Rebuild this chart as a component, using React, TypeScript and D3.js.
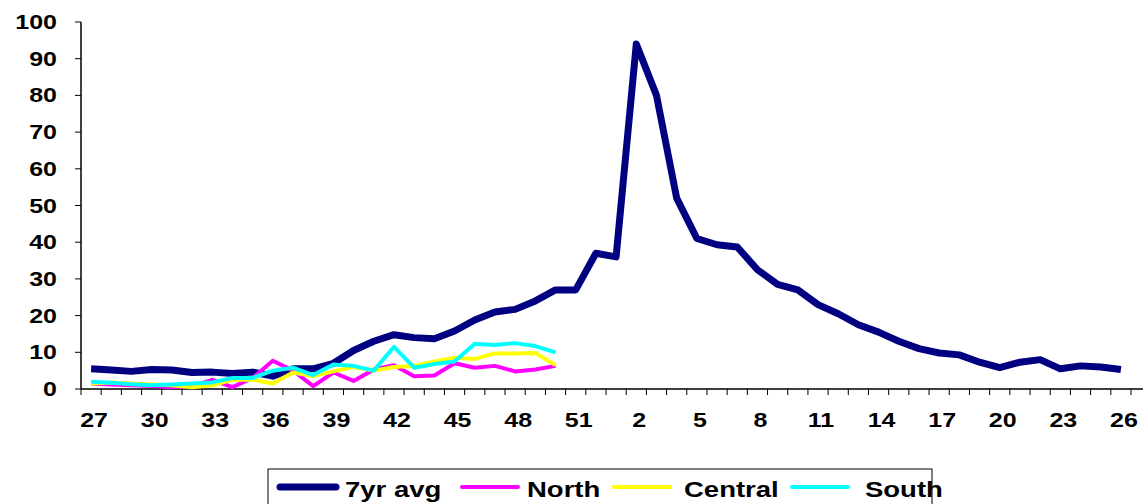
import React from "react";
import * as d3 from "d3";

const weeks = [...d3.range(27, 53), ...d3.range(1, 27)].map(String);
const avg = [5.5,5.2,4.8,5.3,5.2,4.5,4.6,4.2,4.6,3.5,5.5,5.5,7,10.5,13,14.8,14,13.7,15.8,18.8,21,21.7,24,27,27,37,36,94,80,52,41,39.3,38.7,32.5,28.5,27,23,20.5,17.5,15.5,13,11,9.8,9.3,7.3,5.8,7.3,8,5.5,6.3,6,5.3];
const north = [1.5,1.2,1,0.8,0.5,0.8,2.5,0.5,3,7.7,5,0.8,4.5,2.2,5.3,6.5,3.5,3.7,7,5.8,6.3,4.8,5.3,6.3];
const central = [1.5,1.8,1.5,1.2,1,0.5,1,2.5,2.5,1.5,4.5,3.5,4.8,6,5,6,6.3,7.5,8.5,8.2,9.7,9.7,9.8,6.5];
const south = [2,1.7,1.3,1,1.2,1.5,1.8,3,3,5,5.8,3.8,6.7,6.3,5,11.5,5.8,6.8,7.5,12.3,12,12.5,11.7,10];
const yTicks = d3.range(0, 101, 10);

const series = [
  { name: "7yr avg", data: avg, color: "#000080", w: 7 },
  { name: "North", data: north, color: "#FF00FF", w: 4 },
  { name: "Central", data: central, color: "#FFFF00", w: 4 },
  { name: "South", data: south, color: "#00FFFF", w: 4 },
];

export default function App() {
  const x = d3.scaleBand().domain(weeks).range([81, 1131]);
  const y = d3.scaleLinear().domain([0, 100]).range([389, 22]);
  const line = d3.line<number>().x((_, i) => x(weeks[i])! + x.bandwidth() / 2).y((d) => y(d));
  const font = "Arial, 'Liberation Sans', sans-serif";
  const legendX = [280, 462, 614, 792];
  const textX = [345, 527, 684, 865];
  const sx = 1.25;
  return (
    <svg width={1143} height={504} style={{ position: "absolute", left: 0, top: 0 }} fontFamily={font} fontWeight="bold">
      <line x1={81} x2={81} y1={22} y2={389} stroke="#000" strokeWidth={1.5} />
      <line x1={81} x2={1143} y1={389} y2={389} stroke="#000" strokeWidth={1.5} />
      {yTicks.map((t) => (
        <g key={t}>
          <line x1={75} x2={81} y1={y(t)} y2={y(t)} stroke="#000" />
          <text transform={`translate(57,${y(t)}) scale(${sx},1)`} dy="0.35em" textAnchor="end" fontSize={20}>{t}</text>
        </g>
      ))}
      {[...weeks, "end"].map((w, i) => (
        <line key={w} x1={81 + i * x.step()} x2={81 + i * x.step()} y1={389} y2={395} stroke="#000" />
      ))}
      {weeks.map((w, i) => i % 3 === 0 ? (
        <text key={w} transform={`translate(${x(w)! + x.bandwidth() / 2 + 3},427) scale(${sx},1)`} textAnchor="middle" fontSize={20}>{w}</text>
      ) : null)}
      {series.map((s) => (
        <path key={s.name} d={line(s.data)!} fill="none" stroke={s.color} strokeWidth={s.w} strokeLinejoin="round" />
      ))}
      <rect x={268} y={469} width={664} height={40} fill="#fff" stroke="#000" />
      {series.map((s, i) => (
        <g key={s.name}>
          <line x1={legendX[i]} x2={legendX[i] + 56} y1={487} y2={487} stroke={s.color} strokeWidth={s.w} strokeLinecap="round" />
          <text transform={`translate(${textX[i]},489) scale(${sx},1)`} dy="0.35em" fontSize={22}>{s.name}</text>
        </g>
      ))}
    </svg>
  );
}
